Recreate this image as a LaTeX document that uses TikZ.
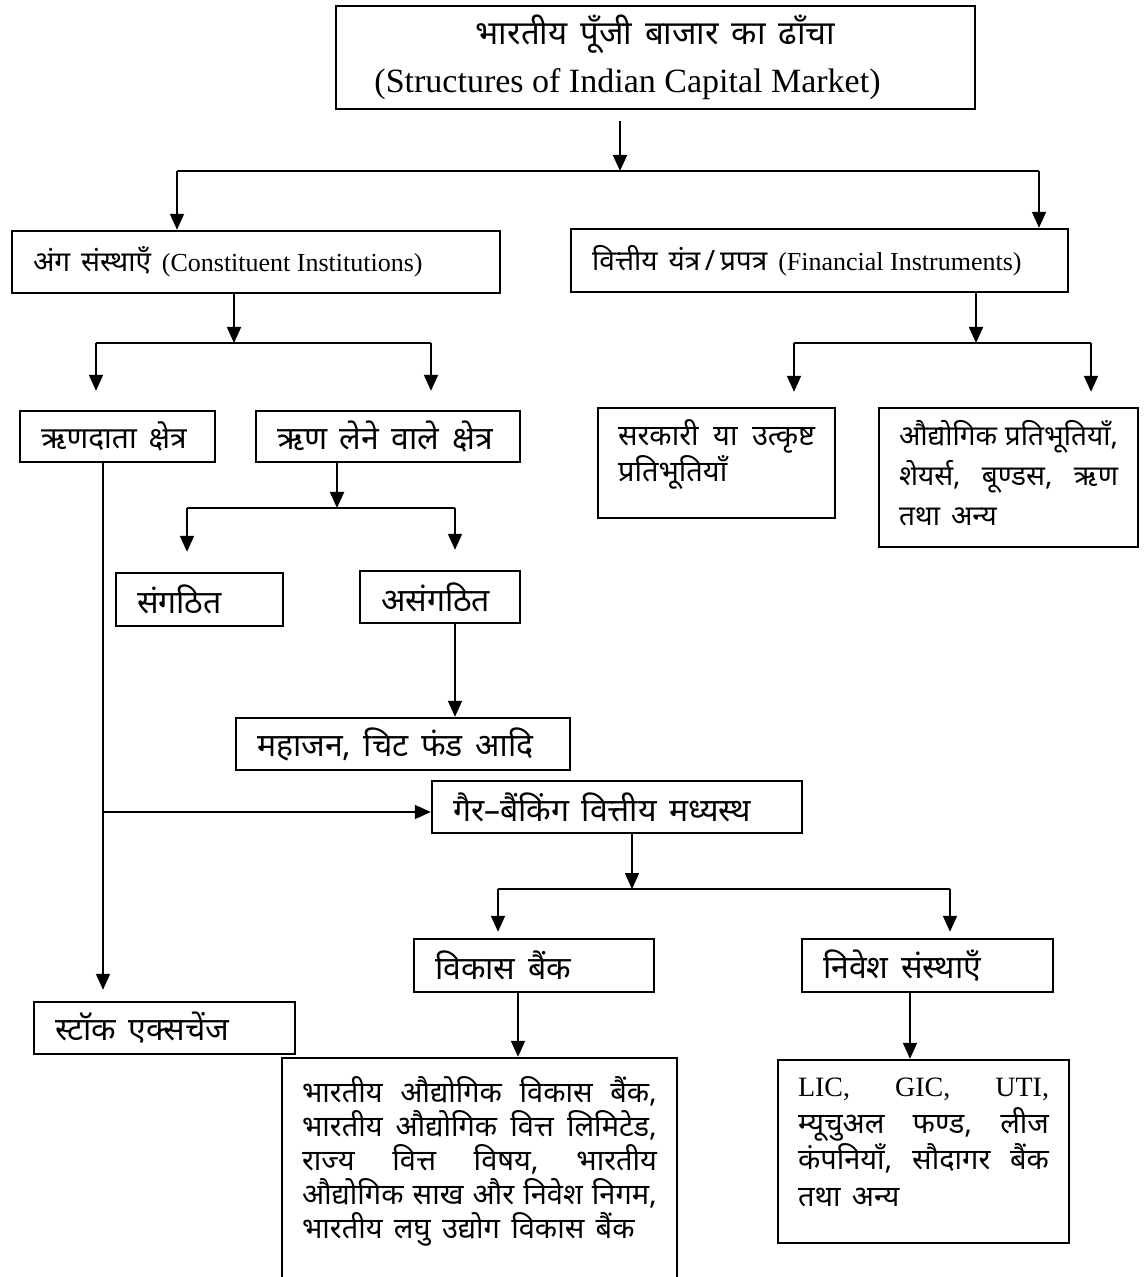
\documentclass[tikz,border=0pt]{standalone}
\usepackage{fontspec}
\setmainfont{Liberation Serif}
\newfontfamily\hindi[Script=Devanagari,WordSpace=1.5]{Noto Sans}
\usetikzlibrary{arrows.meta}

\tikzstyle{blok}=[draw,rectangle,line width=1.2pt,inner xsep=10.5pt,inner ysep=0pt,align=flush left,font=\hindi\fontsize{16}{19}\selectfont]
\tikzstyle{lijst}=[draw,rectangle,line width=1.2pt,inner xsep=10pt,inner ysep=6pt,font=\hindi\fontsize{14.5}{18}\selectfont]
\tikzstyle{arr}=[-{Triangle[length=8pt,width=7pt]}]

\begin{document}
\begin{tikzpicture}[x=0.5pt,y=-0.5pt,line width=0.9pt]
\useasboundingbox (0,0) rectangle (1147,1277);
%\draw[help lines,step=50] (0,0) grid (1147,1277);
\node[blok,align=center,inner xsep=0pt,minimum width=319.5pt,minimum height=51.5pt] (title) at (655.5,57.5)
  {\rule{0pt}{4pt}{\fontsize{16.5}{20}\selectfont भारतीय पूँजी बाजार का ढाँचा}\\[5pt]{\rmfamily\fontsize{17}{20}\selectfont (Structures of Indian Capital Market)\hspace*{28pt}}};
\node[blok,text width=223pt,minimum height=31pt,font=\hindi\fontsize{14}{17}\selectfont] (cons) at (256,262)
  {अंग संस्थाएँ {\rmfamily\fontsize{13}{16}\selectfont (Constituent Institutions)}};
\node[blok,text width=227.5pt,minimum height=31.5pt,font=\hindi\fontsize{14}{17}\selectfont] (fin) at (819.5,260.5)
  {वित्तीय यंत्र\,/\,प्रपत्र {\rmfamily\fontsize{13}{16}\selectfont (Financial Instruments)}};
\node[blok,text width=76.5pt,minimum height=25.5pt,font=\hindi\fontsize{15}{18}\selectfont] (lend) at (117.5,436.5) {ऋणदाता क्षेत्र};
\node[blok,text width=111pt,minimum height=25.5pt]  (borrow) at (388,436.5)  {ऋण लेने वाले क्षेत्र};
\node[blok,text width=62.5pt,minimum height=26.5pt] (org)    at (199.5,599.5) {संगठित};
\node[blok,text width=59pt,minimum height=26pt]     (unorg)  at (440,597)    {असंगठित};
\node[blok,text width=146pt,minimum height=26pt]    (mahajan) at (403,744)   {महाजन, चिट फंड आदि};
\node[blok,text width=164pt,minimum height=26pt]    (nbfi)   at (617,807)    {गैर–बैंकिंग वित्तीय मध्यस्थ};
\node[blok,text width=109.5pt,minimum height=26pt]  (stock)  at (164.5,1028) {स्टॉक एक्सचेंज};
\node[blok,text width=99pt,minimum height=26.5pt]   (devbank) at (534,965.5) {विकास बैंक};
\node[blok,text width=104.5pt,minimum height=26.5pt] (invest) at (927.5,965.5) {निवेश संस्थाएँ};
\node[lijst] (govt) at (716.5,463)
  {\parbox[t][43pt][t]{98.5pt}{सरकारी\hfill या\hfill उत्कृष्ट\\प्रतिभूतियाँ}};
\node[lijst,font=\hindi\fontsize{14}{20}\selectfont] (indsec) at (1008.5,477.5)
  {\parbox[t][57.5pt][t]{109.5pt}{औद्योगिक\hfill प्रतिभूतियाँ,\\शेयर्स,\hfill बूण्डस,\hfill ऋण\\तथा अन्य}};
\node[lijst,inner ysep=9.5pt,font=\hindi\fontsize{14.5}{17}\selectfont] (devlist) at (479.5,1188)
  {\parbox[t][111pt][t]{177.5pt}{भारतीय\hfill औद्योगिक\hfill विकास\hfill बैंक,\\
   भारतीय\hfill औद्योगिक\hfill वित्त\hfill लिमिटेड,\\
   राज्य\hfill वित्त\hfill विषय,\hfill भारतीय\\
   औद्योगिक\hfill साख\hfill और\hfill निवेश\hfill निगम,\\
   भारतीय लघु उद्योग विकास बैंक}};
\node[lijst,inner ysep=9pt,font=\hindi\fontsize{14.5}{18.3}\selectfont] (instlist) at (923.5,1151.5)
  {\parbox[t][73.5pt][t]{125.5pt}{{\rmfamily\fontsize{14}{18.3}\selectfont LIC,\hfill GIC,\hfill UTI,}\\
   म्यूचुअल\hfill फण्ड,\hfill लीज\\
   कंपनियाँ,\hfill सौदागर\hfill बैंक\\
   तथा अन्य}};
% junction points
\coordinate (t1) at (620,171);  \coordinate (t1l) at (177,171);  \coordinate (t1r) at (1039,171);
\coordinate (c1) at (234,343);  \coordinate (c1l) at (96,343);   \coordinate (c1r) at (431,343);
\coordinate (b1) at (337,508);  \coordinate (b1l) at (187,508);  \coordinate (b1r) at (455,508);
\coordinate (f1) at (976,343);  \coordinate (f1l) at (794,343);  \coordinate (f1r) at (1091,343);
\coordinate (n1) at (632,889);  \coordinate (n1l) at (498,889);  \coordinate (n1r) at (950,889);
\coordinate (l1) at (103,812);
% connectors
\draw[arr] ([yshift=-5.5pt]title.south -| t1) -- (t1);
\draw (t1l) -- (t1r);
\draw[arr] (t1l) -- (t1l |- cons.north);
\draw[arr] (t1r) -- (t1r |- fin.north);
\draw[arr] (cons.south -| c1) -- (c1);
\draw (c1l) -- (c1r);
\draw[arr] (c1l) -- ([yshift=9.5pt]c1l |- lend.north);
\draw[arr] (c1r) -- ([yshift=9.5pt]c1r |- borrow.north);
\draw[arr] (borrow.south -| b1) -- (b1);
\draw (b1l) -- (b1r);
\draw[arr] (b1l) -- ([yshift=10pt]b1l |- org.north);
\draw[arr] (b1r) -- ([yshift=10pt]b1r |- unorg.north);
\draw[arr] (unorg.south -| b1r) -- (mahajan.north -| b1r);
\draw (lend.south -| l1) -- (l1);
\draw[arr] (l1) -- (nbfi.west |- l1);
\draw[arr] (l1) -- ([yshift=5.5pt]stock.north -| l1);
\draw[arr] (nbfi.south -| n1) -- (n1);
\draw (n1l) -- (n1r);
\draw[arr] (n1l) -- ([yshift=3pt]n1l |- devbank.north);
\draw[arr] (n1r) -- ([yshift=3pt]n1r |- invest.north);
\draw[arr] ([xshift=-8pt]devbank.south) -- ([xshift=-8pt]devbank.south |- devlist.north);
\draw[arr] ([xshift=-8.75pt]invest.south) -- ([xshift=-8.75pt]invest.south |- instlist.north);
\draw[arr] (fin.south -| f1) -- (f1);
\draw (f1l) -- (f1r);
\draw[arr] (f1l) -- ([yshift=7.5pt]f1l |- govt.north);
\draw[arr] (f1r) -- ([yshift=7.5pt]f1r |- indsec.north);
\end{tikzpicture}
\end{document}
